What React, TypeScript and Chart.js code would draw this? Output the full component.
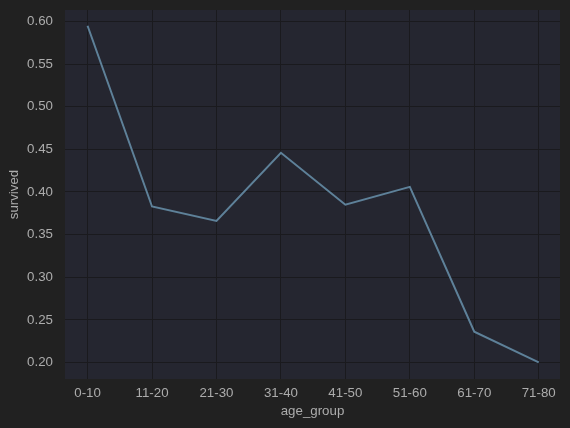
import React, { useEffect, useRef } from "react";
import { Chart, registerables } from "chart.js";

Chart.register(...registerables);

const categories = ["0-10", "11-20", "21-30", "31-40", "41-50", "51-60", "61-70", "71-80"];
const survived = [0.595, 0.383, 0.366, 0.446, 0.385, 0.406, 0.236, 0.2];
const yTicks = [0.2, 0.25, 0.3, 0.35, 0.4, 0.45, 0.5, 0.55, 0.6];

const plotBg = {
  id: "plotBg",
  beforeDraw(chart: any) {
    const { ctx, chartArea } = chart;
    ctx.save();
    ctx.fillStyle = "#252630";
    ctx.fillRect(chartArea.left, chartArea.top, chartArea.right - chartArea.left, chartArea.bottom - chartArea.top);
    ctx.restore();
  },
};

export default function App() {
  const ref = useRef<HTMLCanvasElement>(null);
  useEffect(() => {
    if (!ref.current) return;
    const font = { family: "'Liberation Sans', Arial, sans-serif", size: 13.3 };
    const chart = new Chart(ref.current, {
      type: "line",
      data: {
        datasets: [
          {
            data: survived.map((v, i) => ({ x: i, y: v })),
            borderColor: "#5e8199",
            borderWidth: 2,
            pointRadius: 0,
            tension: 0,
            fill: false,
          },
        ],
      },
      options: {
        responsive: false,
        animation: false,
        layout: { padding: { top: 10, right: 10, left: 0, bottom: 0 } },
        plugins: { legend: { display: false }, tooltip: { enabled: false } },
        scales: {
          x: {
            type: "linear",
            min: -0.35,
            max: categories.length - 1 + 0.33,
            afterBuildTicks: (scale: any) => {
              scale.ticks = categories.map((_, i) => ({ value: i }));
            },
            afterFit: (scale: any) => {
              scale.height = 49;
              scale.paddingLeft = 0;
              scale.paddingRight = 0;
            },
            ticks: {
              color: "#acacac",
              font,
              padding: 6,
              maxRotation: 0,
              autoSkip: false,
              callback: (v: any) => categories[Math.round(Number(v))] ?? "",
            },
            grid: { color: "#1a1a1e", drawTicks: false, lineWidth: 1 },
            border: { display: false },
            title: { display: true, text: "age_group", color: "#acacac", font, padding: { top: 4, bottom: 9 } },
          },
          y: {
            type: "linear",
            min: 0.1806,
            max: 0.6135,
            afterBuildTicks: (scale: any) => {
              scale.ticks = yTicks.map((v) => ({ value: v }));
            },
            afterFit: (scale: any) => {
              scale.width = 65;
              scale.paddingTop = 0;
              scale.paddingBottom = 0;
            },
            ticks: {
              color: "#acacac",
              font,
              padding: 12,
              callback: (v: any) => Number(v).toFixed(2),
            },
            grid: { color: "#1a1a1e", drawTicks: false, lineWidth: 1 },
            border: { display: false },
            title: { display: true, text: "survived", color: "#acacac", font, padding: { top: 6, bottom: 4 } },
          },
        },
      },
      plugins: [plotBg],
    });
    return () => chart.destroy();
  }, []);
  return (
    <div style={{ position: "fixed", left: 0, top: 0, width: 570, height: 428, background: "#212121" }}>
      <canvas ref={ref} width={570} height={428} style={{ display: "block" }} />
    </div>
  );
}
